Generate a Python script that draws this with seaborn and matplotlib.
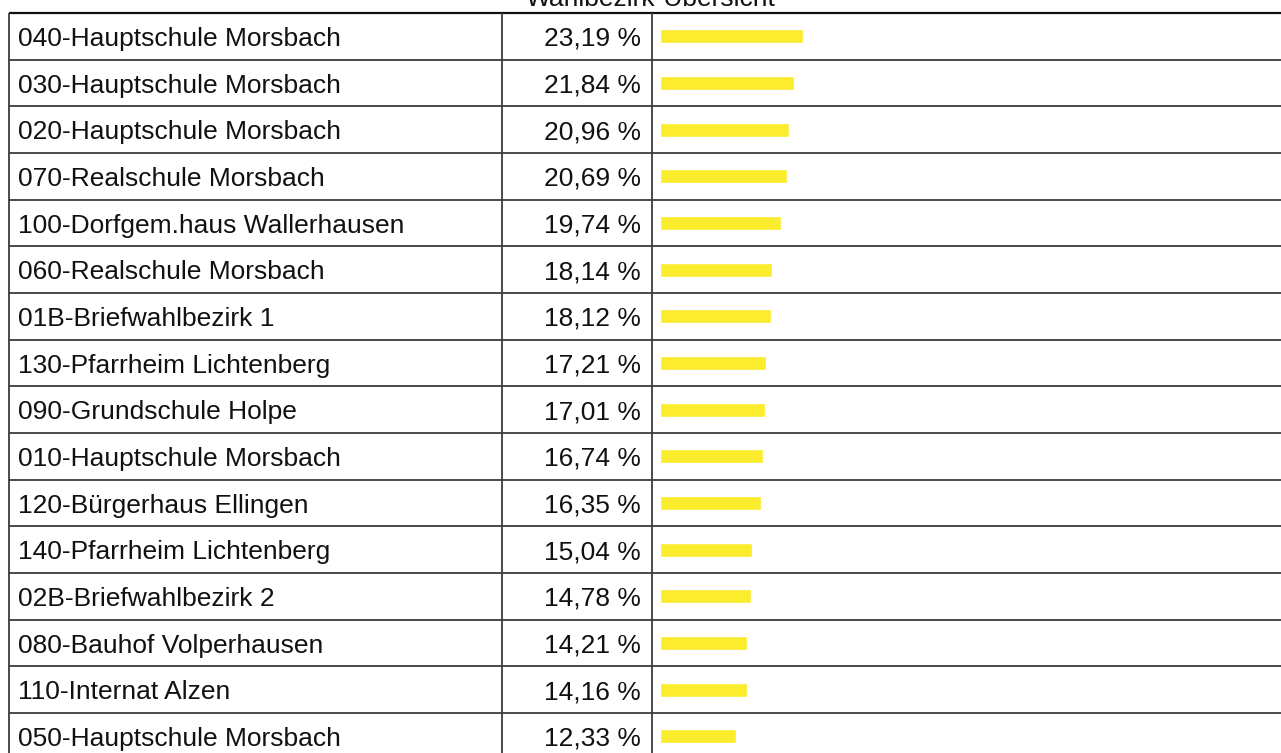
import matplotlib
matplotlib.use("Agg")
import matplotlib.pyplot as plt
import seaborn as sns
import pandas as pd

# Data
districts = [
    "040-Hauptschule Morsbach",
    "030-Hauptschule Morsbach",
    "020-Hauptschule Morsbach",
    "070-Realschule Morsbach",
    "100-Dorfgem.haus Wallerhausen",
    "060-Realschule Morsbach",
    "01B-Briefwahlbezirk 1",
    "130-Pfarrheim Lichtenberg",
    "090-Grundschule Holpe",
    "010-Hauptschule Morsbach",
    "120-Bürgerhaus Ellingen",
    "140-Pfarrheim Lichtenberg",
    "02B-Briefwahlbezirk 2",
    "080-Bauhof Volperhausen",
    "110-Internat Alzen",
    "050-Hauptschule Morsbach",
]
shares = [23.19, 21.84, 20.96, 20.69, 19.74, 18.14, 18.12, 17.21,
          17.01, 16.74, 16.35, 15.04, 14.78, 14.21, 14.16, 12.33]
title = "Wahlbezirk-Übersicht"

# Layout (pixels)
W, H = 1281, 753
TOP_PX = 13.0
ROW_PX = 46.67
BAR0_PX = 660.0
PX_PER_PCT = 6.15
COL_X = [9.0, 502.0, 652.0]
NAME_X = 18.0
PCT_RIGHT = 641.0
BAR_COLOR = "#FBEC2D"
LINE_COLOR = "#3c3c3c"

sns.set_theme(style="white")
plt.rcParams["font.family"] = ["Liberation Sans", "DejaVu Sans"]

fig = plt.figure(figsize=(W / 100, H / 100), dpi=100)
ax = fig.add_axes([0, 0, 1, 1])

df = pd.DataFrame({"Bezirk": districts, "Anteil": shares})
sns.barplot(data=df, x="Anteil", y="Bezirk", orient="h", color=BAR_COLOR,
            saturation=1, width=0.3, ax=ax, zorder=2)


def px_x(p):
    return (p - BAR0_PX) / PX_PER_PCT


def px_y(p):
    return (p - TOP_PX) / ROW_PX - 0.5


ax.set_xlim(px_x(0), px_x(W))
ax.set_ylim(px_y(H), px_y(0))
ax.set_axis_off()

n = len(districts)
# Table grid
for i in range(n + 1):
    y = i - 0.5
    lw = 1.6 if i == 0 else 1.3
    col = "#111111" if i == 0 else LINE_COLOR
    ax.plot([px_x(COL_X[0]), px_x(W)], [y, y], color=col, lw=lw, zorder=3,
            solid_capstyle="butt")
for cx in COL_X:
    ax.plot([px_x(cx), px_x(cx)], [-0.5, px_y(H)], color=LINE_COLOR, lw=1.3,
            zorder=3, solid_capstyle="butt")

# Cell texts
off = 9.5 / ROW_PX
for i, (name, v) in enumerate(zip(districts, shares)):
    ax.text(px_x(NAME_X), i + off, name, ha="left", va="baseline",
            fontsize=19, color="#111111")
    label = f"{v:.2f}".replace(".", ",") + " %"
    ax.text(px_x(PCT_RIGHT), i + off, label, ha="right", va="baseline",
            fontsize=19, color="#111111")

fig.text(651 / W, 1 - 5.5 / H, title, ha="center", va="baseline",
         fontsize=19, color="#111111")

fig.savefig("out.png", dpi=100, facecolor="white")
